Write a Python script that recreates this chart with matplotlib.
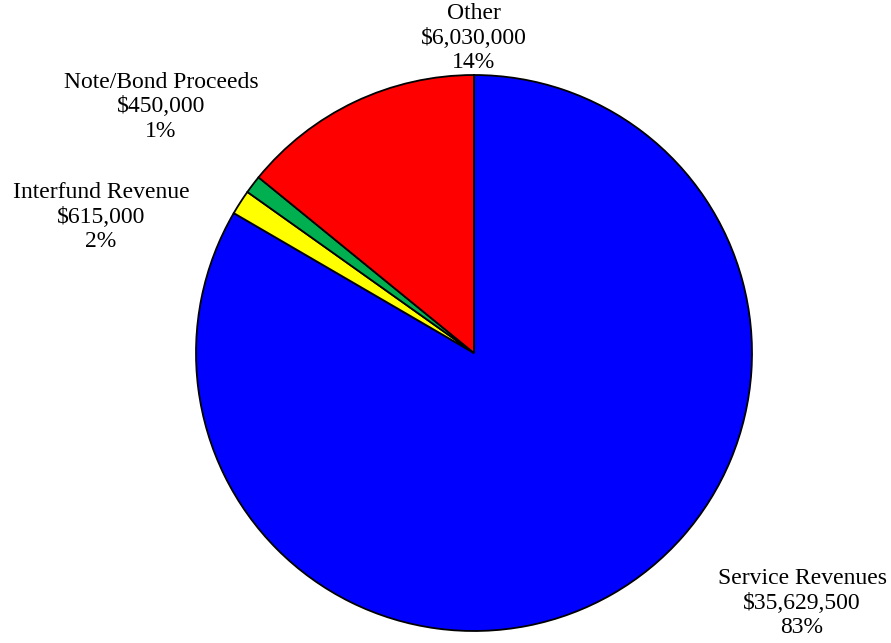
import matplotlib.pyplot as plt

# Revenue sources, clockwise from 12 o'clock
sources = ['Service Revenues', 'Interfund Revenue', 'Note/Bond Proceeds', 'Other']
amounts = [35629500, 615000, 450000, 6030000]
percents = ['83%', '2%', '1%', '14%']
colors = ['#0000FF', '#FFFF00', '#00B050', '#FF0000']

# label anchors, in units of the pie radius
label_pos = [(1.18, -0.90), (-1.342, 0.489), (-1.126, 0.885), (0.0, 1.133)]

W, H = 891, 643
CX, CY, R = 474, 353, 278

plt.rcParams['font.family'] = ['Liberation Serif', 'DejaVu Serif']

fig = plt.figure(figsize=(W / 100, H / 100), dpi=100)
ax = fig.add_axes([0, 0, 1, 1])

ax.pie(amounts, colors=colors, startangle=90, counterclock=False, radius=1,
       wedgeprops={'edgecolor': 'black', 'linewidth': 1.3})

for name, amt, pct, (x, y) in zip(sources, amounts, percents, label_pos):
    txt = '%s\n$%s\n%s' % (name, format(amt, ','), pct)
    ax.text(x, y, txt, ha='center', va='center', fontsize=17,
            linespacing=1.2, color='black')

ax.set_xlim(-CX / R, (W - CX) / R)
ax.set_ylim(-(H - CY) / R, CY / R)
ax.set_aspect('equal')
ax.axis('off')

fig.savefig('out.png', dpi=100)
